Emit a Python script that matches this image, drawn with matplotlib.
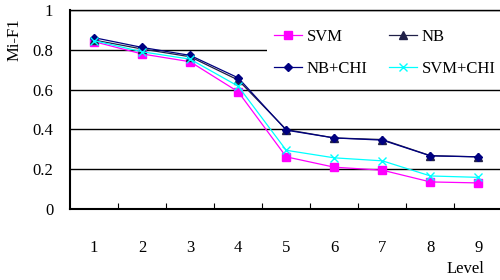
import numpy as np
import matplotlib.pyplot as plt

plt.rcParams['font.family'] = ['Liberation Serif', 'DejaVu Serif']

levels = [1, 2, 3, 4, 5, 6, 7, 8, 9]
svm = [0.841, 0.779, 0.740, 0.589, 0.262, 0.210, 0.195, 0.136, 0.131]
nb = [0.849, 0.804, 0.765, 0.648, 0.399, 0.357, 0.349, 0.268, 0.262]
nb_chi = [0.861, 0.812, 0.772, 0.659, 0.396, 0.357, 0.346, 0.267, 0.262]
svm_chi = [0.846, 0.790, 0.753, 0.617, 0.295, 0.257, 0.242, 0.166, 0.159]

fig = plt.figure(figsize=(5, 2.8), dpi=100)
ax = fig.add_axes([0.14, 0.2536, 0.865, 0.7107])

l_svm, = ax.plot(levels, svm, color='#FF00FF', lw=0.9, marker='s', ms=6, label='SVM')
l_nb, = ax.plot(levels, nb, color='#202048', lw=0.9, marker='^', ms=6, label='NB')
l_nbc, = ax.plot(levels, nb_chi, color='#000080', lw=0.9, marker='D', ms=4.5, label='NB+CHI')
l_svc, = ax.plot(levels, svm_chi, color='#00FFFF', lw=0.9, marker='x', ms=6, mew=1, label='SVM+CHI')

ax.set_xlim(0.5, 9.5)
ax.set_ylim(0, 1)
ax.set_yticks(np.arange(0, 1.01, 0.2))
ax.set_yticklabels(['0', '0.2', '0.4', '0.6', '0.8', '1'])
ax.yaxis.grid(True, color='black', lw=1)
ax.set_axisbelow(True)
ax.tick_params(axis='y', length=0, pad=12, labelsize=12)

ax.set_xticks(levels)
ax.set_xticks(np.arange(1.5, 9.6, 1), minor=True)
ax.tick_params(axis='x', which='major', length=0, pad=22, labelsize=12)
ax.tick_params(axis='x', which='minor', direction='in', length=4, width=0.8)

ax.spines['right'].set_visible(False)
ax.spines['top'].set_linewidth(1)
ax.spines['left'].set_linewidth(1.5)
ax.spines['bottom'].set_linewidth(1.5)

fig.text(0.03, 0.86, 'Mi-F1', rotation=90, ha='center', va='center', fontsize=12)
fig.text(0.93, 0.04, 'Level', ha='center', va='center', fontsize=12)

leg = ax.legend([l_svm, l_nbc, l_nb, l_svc], ['SVM', 'NB+CHI', 'NB', 'SVM+CHI'],
                ncol=2, loc='upper right', bbox_to_anchor=(1.0, 0.94),
                fontsize=12, handlelength=1.7, handletextpad=0.3,
                columnspacing=1.25, labelspacing=1.0, borderaxespad=0,
                frameon=True, fancybox=False, edgecolor='none',
                facecolor='white', framealpha=1)

fig.savefig('out.png', dpi=100)
